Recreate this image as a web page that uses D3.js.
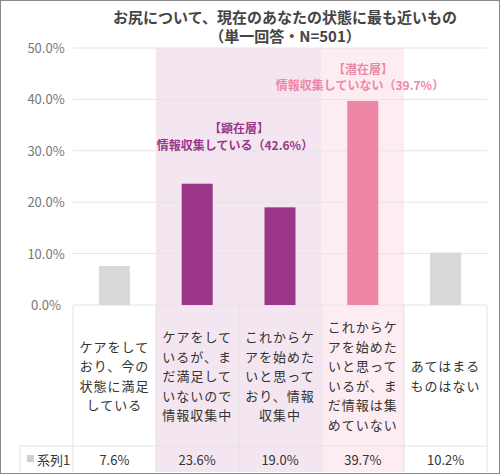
<!DOCTYPE html><html><head><meta charset="utf-8"><script src="https://d3js.org/d3.v7.min.js"></script>
<style>body{margin:0;background:#fff}text{font-family:"Noto Sans CJK JP",sans-serif}</style></head><body><svg id="c" width="500" height="474"></svg>
<script>
const categories=[["ケアをして","おり、今の","状態に満足","している"],["ケアをして","いるが、ま","だ満足して","いないので","情報収集中"],["これからケ","アを始めた","いと思って","おり、情報","収集中"],["これからケ","アを始めた","いと思って","いるが、ま","だ情報は集","めていない"],["あてはまる","ものはない"]];
const values=[7.6,23.6,19.0,39.7,10.2];
const colors=["#d9d9d9","#9c3689","#9c3689","#ee87a6","#d9d9d9"];
const ticks=[0,10,20,30,40,50];
const svg=d3.select("#c");
svg.append("rect").attr("x",0.5).attr("y",0.5).attr("width",499).attr("height",473).attr("fill","#fff").attr("stroke","#888");
const x=d3.scaleBand().domain(d3.range(5)).range([73,487]);
const y=d3.scaleLinear().domain([0,50]).range([305,48]);
const tableBottom=446;
svg.append("rect").attr("x",x(1)).attr("y",y(50)).attr("width",x.bandwidth()*2).attr("height",474-y(50)-2).attr("fill","#f3e6f1");
svg.append("rect").attr("x",x(3)).attr("y",y(50)).attr("width",x.bandwidth()).attr("height",474-y(50)-2).attr("fill","#fdedf2");
ticks.forEach(t=>{svg.append("line").attr("x1",73).attr("x2",487).attr("y1",y(t)).attr("y2",y(t)).attr("stroke","#e4e4e4");
svg.append("text").attr("x",46).attr("y",y(t)+5).attr("text-anchor","middle").attr("font-size",13).attr("fill","#777").text(t.toFixed(1)+"%");});
const tl="#e2e2e2";
[73,156,239,322,404,487].forEach(v=>{svg.append("line").attr("x1",v).attr("x2",v).attr("y1",305).attr("y2",472).attr("stroke",tl);});
svg.append("line").attr("x1",20).attr("x2",487).attr("y1",tableBottom).attr("y2",tableBottom).attr("stroke",tl);
svg.append("line").attr("x1",20).attr("x2",20).attr("y1",tableBottom).attr("y2",472).attr("stroke",tl);
const bw=31;
svg.selectAll(".b").data(values).enter().append("rect").attr("x",(d,i)=>x(i)+x.bandwidth()/2-bw/2).attr("y",d=>y(d)).attr("width",bw).attr("height",d=>y(0)-y(d)).attr("fill",(d,i)=>colors[i]);
categories.forEach((c,i)=>{const n=c.length,lh=19.5;const cy=376-((n-1)*lh)/2;
c.forEach((s,j)=>svg.append("text").attr("x",x(i)+x.bandwidth()/2).attr("y",cy+j*lh+5).attr("text-anchor","middle").attr("font-size",13).attr("fill","#333").attr("letter-spacing",1).text(s));});
values.forEach((v,i)=>svg.append("text").attr("x",x(i)+x.bandwidth()/2).attr("y",465).attr("text-anchor","middle").attr("font-size",13).attr("fill","#333").text(v.toFixed(1)+"%"));
svg.append("rect").attr("x",27).attr("y",455).attr("width",7).attr("height",7).attr("fill","#d0d0d0");
svg.append("text").attr("x",37).attr("y",465).attr("font-size",13).attr("fill","#333").text("系列1");
svg.append("text").attr("x",285).attr("y",23).attr("text-anchor","middle").attr("font-size",15).attr("font-weight","bold").attr("fill","#444").text("お尻について、現在のあなたの状態に最も近いもの");
svg.append("text").attr("x",285).attr("y",42).attr("text-anchor","middle").attr("font-size",15).attr("font-weight","bold").attr("fill","#444").text("（単一回答・N=501）");
svg.append("text").attr("x",239).attr("y",133).attr("text-anchor","middle").attr("font-size",12).attr("font-weight","bold").attr("fill","#9c3689").text("【顕在層】");
svg.append("text").attr("x",235).attr("y",150).attr("text-anchor","middle").attr("font-size",12).attr("font-weight","bold").attr("fill","#9c3689").text("情報収集している（42.6%）");
svg.append("text").attr("x",363).attr("y",74).attr("text-anchor","middle").attr("font-size",12).attr("font-weight","bold").attr("fill","#ee87a6").text("【潜在層】");
svg.append("text").attr("x",360).attr("y",90).attr("text-anchor","middle").attr("font-size",12).attr("font-weight","bold").attr("fill","#ee87a6").text("情報収集していない（39.7%）");
</script></body></html>
